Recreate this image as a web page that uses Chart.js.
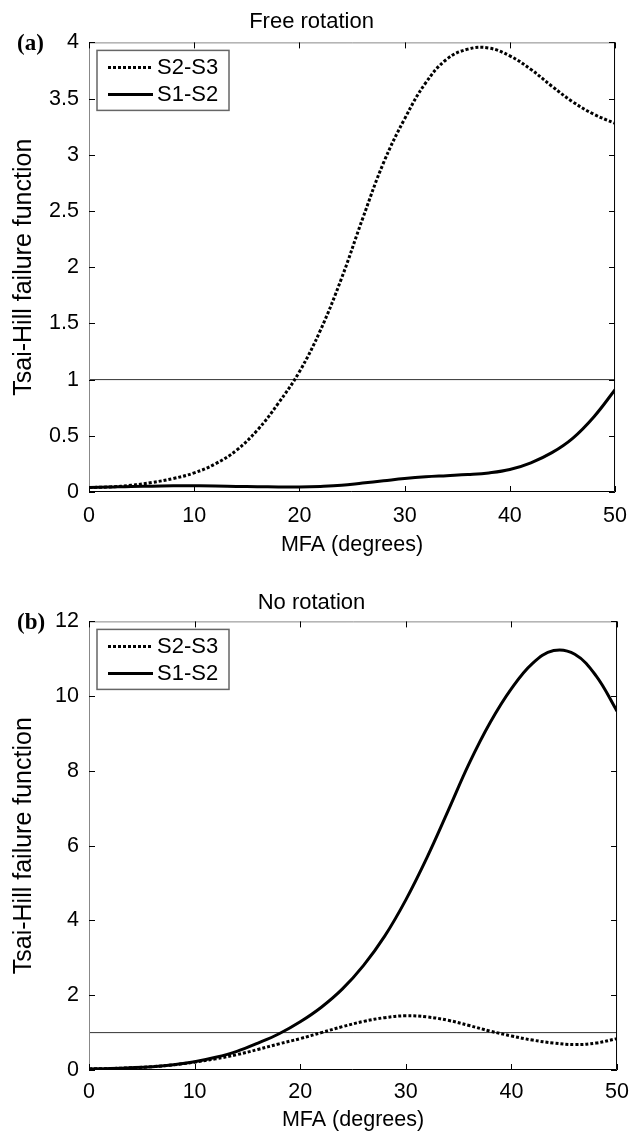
<!DOCTYPE html>
<html>
<head>
<meta charset="utf-8">
<script src="https://cdn.jsdelivr.net/npm/chart.js@4/dist/chart.umd.min.js"></script>
<style>
	html, body { margin: 0; padding: 0; background: #fff; }
	.painel { position: absolute; left: 0; width: 638px; height: 568px; }
</style>
</head>
<body>
<div class="painel" style="top:0"><canvas id="graficoLivre" width="638" height="568"></canvas></div>
<div class="painel" style="top:568px"><canvas id="graficoSem" width="638" height="568"></canvas></div>

<script>
// MFA (degrees), common x grid for every curve
var mfa = [0, 2, 4, 6, 8, 10, 12, 14, 16, 18, 20, 22, 24, 26, 28, 30, 32, 34, 36, 38, 40, 42, 44, 46, 48, 50];

// (a) Free rotation
var livreS2S3 = [0.04, 0.045, 0.06, 0.085, 0.12, 0.17, 0.25, 0.37, 0.55, 0.79, 1.07, 1.44, 1.90, 2.43, 2.93, 3.32, 3.64, 3.85, 3.94, 3.95, 3.88, 3.76, 3.61, 3.47, 3.36, 3.28];
var livreS1S2 = [0.04, 0.045, 0.05, 0.052, 0.055, 0.055, 0.054, 0.05, 0.047, 0.045, 0.045, 0.05, 0.06, 0.08, 0.10, 0.12, 0.135, 0.145, 0.155, 0.17, 0.20, 0.26, 0.35, 0.48, 0.67, 0.91];

// (b) No rotation
var semS2S3 = [0.03, 0.04, 0.06, 0.09, 0.14, 0.21, 0.30, 0.41, 0.55, 0.70, 0.84, 1.0, 1.16, 1.30, 1.40, 1.45, 1.42, 1.33, 1.19, 1.04, 0.91, 0.80, 0.72, 0.68, 0.72, 0.84];
var semS1S2 = [0.03, 0.04, 0.06, 0.09, 0.14, 0.22, 0.34, 0.50, 0.72, 0.97, 1.29, 1.68, 2.17, 2.80, 3.58, 4.55, 5.68, 6.93, 8.2, 9.3, 10.2, 10.88, 11.22, 11.12, 10.55, 9.6];

// failure threshold
var limiteX = [0, 50];
var limiteY = [1, 1];

var xTicks = [0, 10, 20, 30, 40, 50];
var yTicksLivre = [0, 0.5, 1, 1.5, 2, 2.5, 3, 3.5, 4];
var yTicksSem = [0, 2, 4, 6, 8, 10, 12];

var FONTE = "'Liberation Sans', Arial, sans-serif";

function pares(xs, ys) {
	return xs.map(function(x, i){ return {x: x, y: ys[i]}; });
}

// frame, inward ticks, boxed legend and panel letter
var molduraPlugin = {
	id: 'moldura',
	afterDatasetsDraw: function(chart, args, opts) {
		var ctx = chart.ctx;
		var area = chart.chartArea;
		var sx = chart.scales.x, sy = chart.scales.y;
		ctx.save();

		// frame
		ctx.lineWidth = 1;
		ctx.strokeStyle = '#888';
		ctx.beginPath();
		ctx.moveTo(area.left + 0.5, area.bottom);
		ctx.lineTo(area.left + 0.5, area.top + 0.5);
		ctx.lineTo(area.right, area.top + 0.5);
		ctx.stroke();
		ctx.strokeStyle = '#000';
		ctx.beginPath();
		ctx.moveTo(area.right - 0.5, area.top);
		ctx.lineTo(area.right - 0.5, area.bottom - 0.5);
		ctx.lineTo(area.left, area.bottom - 0.5);
		ctx.stroke();

		// ticks pointing in
		ctx.strokeStyle = '#000';
		ctx.beginPath();
		sx.ticks.forEach(function(t){
			var px = Math.round(sx.getPixelForValue(t.value)) + 0.5;
			ctx.moveTo(px, area.bottom); ctx.lineTo(px, area.bottom - 6);
			ctx.moveTo(px, area.top); ctx.lineTo(px, area.top + 6);
		});
		sy.ticks.forEach(function(t){
			var py = Math.round(sy.getPixelForValue(t.value)) + 0.5;
			ctx.moveTo(area.left, py); ctx.lineTo(area.left + 6, py);
			ctx.moveTo(area.right, py); ctx.lineTo(area.right - 6, py);
		});
		ctx.stroke();

		// legend box
		var bx = area.left + 8, by = area.top + 8;
		ctx.fillStyle = '#fff';
		ctx.fillRect(bx, by, 132, 60);
		ctx.strokeStyle = '#666';
		ctx.lineWidth = 1.5;
		ctx.strokeRect(bx, by, 132, 60);

		var linhas = [17, 44];
		var k = 0;
		chart.data.datasets.forEach(function(ds){
			if (!ds.label) return;
			var ly = by + linhas[k++];
			ctx.strokeStyle = ds.borderColor;
			ctx.lineWidth = ds.borderWidth;
			ctx.setLineDash(ds.borderDash || []);
			ctx.beginPath();
			ctx.moveTo(bx + 11, ly);
			ctx.lineTo(bx + 56, ly);
			ctx.stroke();
			ctx.setLineDash([]);
			ctx.fillStyle = '#000';
			ctx.font = '22px ' + FONTE;
			ctx.textAlign = 'left';
			ctx.textBaseline = 'middle';
			ctx.fillText(ds.label, bx + 60, ly + 1);
		});

		// panel letter
		ctx.fillStyle = '#000';
		ctx.font = 'bold 23px "Liberation Serif", "Times New Roman", serif';
		ctx.textAlign = 'left';
		ctx.textBaseline = 'middle';
		ctx.fillText(opts.letra, 17, area.top + 2);
		ctx.restore();
	}
};

var Figura = Figura || {};

Figura.Painel = (function(){

	function Painel(id, cfg) {
		this.ctx = document.getElementById(id).getContext('2d');
		this.cfg = cfg;
	}

	Painel.prototype.iniciar = function() {
		var cfg = this.cfg;
		new Chart(this.ctx, {
			type: 'line',
			data: {
				datasets: [
					{
						label: 'S2-S3',
						data: pares(mfa, cfg.s2s3),
						borderColor: '#000',
						borderWidth: 3,
						borderDash: [3, 2],
						pointRadius: 0,
						tension: 0.4,
						fill: false
					},
					{
						label: 'S1-S2',
						data: pares(mfa, cfg.s1s2),
						borderColor: '#000',
						borderWidth: 3,
						pointRadius: 0,
						tension: 0.4,
						fill: false
					},
					{
						label: '',
						data: pares(limiteX, limiteY),
						borderColor: '#333',
						borderWidth: 1,
						pointRadius: 0,
						fill: false
					}
				]
			},
			options: {
				responsive: false,
				animation: false,
				devicePixelRatio: 1,
				layout: { padding: { left: 0, right: 15, top: 0, bottom: 0 } },
				plugins: {
					legend: { display: false },
					tooltip: { enabled: false },
					title: {
						display: true,
						text: cfg.titulo,
						color: '#000',
						font: { family: FONTE, size: 22, weight: 'normal' },
						padding: cfg.tituloPad
					},
					moldura: { letra: cfg.letra }
				},
				scales: {
					x: {
						type: 'linear',
						min: 0,
						max: 50,
						afterBuildTicks: function(s){ s.ticks = xTicks.map(function(v){ return {value: v}; }); },
						afterFit: function(s){ s.height = 76 - cfg.ajusteBase; },
						grid: { display: false, drawTicks: false },
						border: { display: false },
						ticks: {
							color: '#000',
							padding: cfg.xTickPad,
							maxRotation: 0,
							font: { family: FONTE, size: 21.5 },
							callback: function(v){ return String(v); }
						},
						title: {
							display: true,
							text: 'MFA (degrees)',
							color: '#000',
							font: { family: FONTE, size: 21.5 },
							padding: { top: 0, bottom: cfg.xTitPad }
						}
					},
					y: {
						type: 'linear',
						min: 0,
						max: cfg.yMax,
						afterBuildTicks: function(s){ s.ticks = cfg.yTicks.map(function(v){ return {value: v}; }); },
						afterFit: function(s){ s.width = 89; },
						grid: { display: false, drawTicks: false },
						border: { display: false },
						ticks: {
							color: '#000',
							padding: 10,
							font: { family: FONTE, size: 21.5 },
							callback: function(v){ return String(v); }
						},
						title: {
							display: true,
							text: 'Tsai-Hill failure function',
							color: '#000',
							font: { family: FONTE, size: 25 },
							padding: { top: 9, bottom: 0 }
						}
					}
				}
			},
			plugins: [molduraPlugin]
		});
	};

	return Painel;
}());

new Figura.Painel('graficoLivre', {
	titulo: 'Free rotation',
	letra: '(a)',
	s2s3: livreS2S3,
	s1s2: livreS1S2,
	yMax: 4,
	yTicks: yTicksLivre,
	tituloPad: { top: 9, bottom: 7 },
	ajusteBase: 0,
	xTickPad: 11,
	xTitPad: 10
}).iniciar();

new Figura.Painel('graficoSem', {
	titulo: 'No rotation',
	letra: '(b)',
	s2s3: semS2S3,
	s1s2: semS1S2,
	yMax: 12,
	yTicks: yTicksSem,
	tituloPad: { top: 22, bottom: 5 },
	ajusteBase: 10,
	xTickPad: 9,
	xTitPad: 3
}).iniciar();
</script>
</body>
</html>
